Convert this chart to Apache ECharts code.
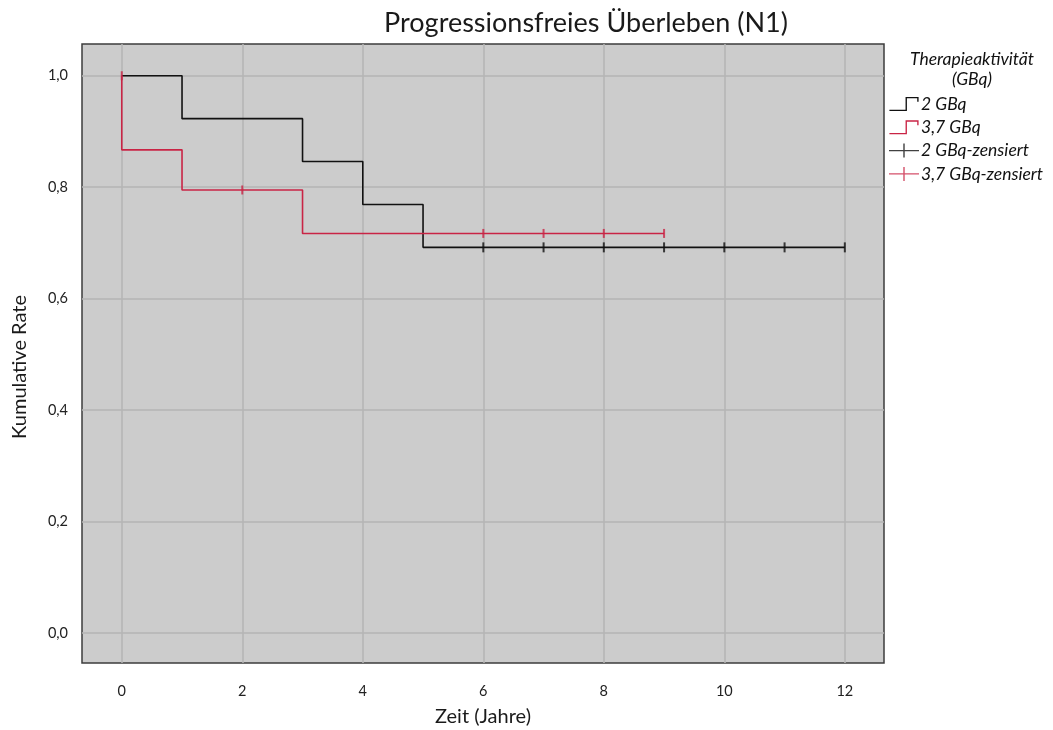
<!DOCTYPE html>
<html>
<head>
<meta charset="utf-8">
<script src="https://cdn.jsdelivr.net/npm/echarts@6/dist/echarts.min.js"></script>
<style>
html,body{margin:0;padding:0;background:#fff;}
#chart{width:1053px;height:730px;}
</style>
</head>
<body>
<div id="chart"></div>
<script>
// ---- data ----
var titleText = 'Progressionsfreies Überleben (N1)';
var legendTitle = 'Therapieaktivität\n(GBq)';
var xName = 'Zeit (Jahre)';
var yName = 'Kumulative Rate';
var seriesNames = ['2 GBq', '3,7 GBq', '2 GBq-zensiert', '3,7 GBq-zensiert'];
var xTicks = [0, 2, 4, 6, 8, 10, 12];
var yTicks = [0, 0.2, 0.4, 0.6, 0.8, 1.0];

// 2 GBq step curve
var timeA = [0, 1, 3, 4, 5, 12];
var survA = [1.0, 0.923, 0.846, 0.769, 0.692, 0.692];
// 3,7 GBq step curve
var timeB = [0, 0, 1, 3, 9];
var survB = [1.0, 0.867, 0.795, 0.717, 0.717];
// censored observations
var censTimeA = [6, 7, 8, 9, 10, 11, 12];
var censSurvA = [0.692, 0.692, 0.692, 0.692, 0.692, 0.692, 0.692];
var censTimeB = [0, 2, 6, 7, 8, 9];
var censSurvB = [1.0, 0.795, 0.717, 0.717, 0.717, 0.717];

function zip(a, b) { return a.map(function (v, i) { return [v, b[i]]; }); }

var BLACK = '#111111';
var RED = '#c92445';
var FONT = 'Lato, "Open Sans", sans-serif';

var stepIcon = 'path://M0,13H18V14.4H0Z M16.6,0H18V14.4H16.6Z M16.6,0H30V1.4H16.6Z M28.6,0H30V5H28.6Z';
var censIcon = 'path://M0,6.3H30V7.7H0Z M14.3,0H15.7V14H14.3Z';
var tickMark = 'path://M0,0H2V10H0Z';

var chart = echarts.init(document.getElementById('chart'), null, {renderer: 'canvas'});
chart.setOption({
  animation: false,
  backgroundColor: '#ffffff',
  title: [
    {
      text: titleText,
      left: 581, top: 5, textAlign: 'center',
      textStyle: {fontFamily: FONT, fontSize: 27, fontWeight: 'normal', color: '#1a1a1a'}
    },
    {
      text: legendTitle,
      left: 967, top: 44, textAlign: 'center',
      textStyle: {fontFamily: FONT, fontSize: 17.5, fontStyle: 'italic', fontWeight: 'normal', color: '#111', lineHeight: 20}
    }
  ],
  legend: {
    orient: 'vertical',
    left: 889, top: 95,
    itemWidth: 30, itemHeight: 14,
    itemGap: 5.3,
    padding: 0,
    textStyle: {fontFamily: FONT, fontSize: 17.5, fontStyle: 'italic', color: '#111', lineHeight: 16, padding: [0, 0, 0, -3]},
    itemStyle: {borderWidth: 0},
    data: [
      {name: seriesNames[0], icon: stepIcon},
      {name: seriesNames[1], icon: stepIcon},
      {name: seriesNames[2], icon: censIcon},
      {name: seriesNames[3], icon: censIcon}
    ]
  },
  grid: {
    left: 82, right: 169, top: 44, bottom: 67,
    show: true, backgroundColor: '#cccccc', borderColor: '#3c3c3c', borderWidth: 1.5,
    containLabel: false,
    outerBoundsMode: 'none'
  },
  xAxis: {
    type: 'value', min: -0.66, max: 12.65,
    name: xName, nameLocation: 'middle', nameGap: 44,
    nameTextStyle: {fontFamily: FONT, fontSize: 20, color: '#1a1a1a'},
    axisLine: {show: false},
    axisTick: {show: false, customValues: xTicks},
    axisLabel: {customValues: xTicks, margin: 21, fontFamily: FONT, fontSize: 14.5, color: '#222'},
    splitLine: {show: true, lineStyle: {color: '#b4b4b4', width: 1.5}}
  },
  yAxis: {
    type: 'value', min: -0.054, max: 1.057,
    axisLine: {show: false},
    axisTick: {show: false, customValues: yTicks},
    axisLabel: {
      customValues: yTicks, margin: 14, fontFamily: FONT, fontSize: 14.5, color: '#222',
      formatter: function (v) { return v.toFixed(1).replace('.', ','); }
    },
    splitLine: {show: true, lineStyle: {color: '#b4b4b4', width: 1.5}}
  },
  graphic: [
    {
      type: 'text', x: 20, y: 367, rotation: Math.PI / 2,
      style: {text: yName, fontFamily: FONT, fontSize: 20, fill: '#1a1a1a', align: 'center', verticalAlign: 'middle'}
    }
  ],
  series: [
    {
      name: seriesNames[0], type: 'line', step: 'end', data: zip(timeA, survA),
      showSymbol: false, symbol: 'none',
      lineStyle: {color: BLACK, width: 1.6}, itemStyle: {color: BLACK}, z: 3
    },
    {
      name: seriesNames[1], type: 'line', step: 'end', data: zip(timeB, survB),
      showSymbol: false, symbol: 'none',
      lineStyle: {color: RED, width: 1.6}, itemStyle: {color: RED}, z: 3
    },
    {
      name: seriesNames[2], type: 'scatter', data: zip(censTimeA, censSurvA),
      symbol: tickMark, symbolSize: [2, 10], itemStyle: {color: BLACK}, z: 4
    },
    {
      name: seriesNames[3], type: 'scatter', data: zip(censTimeB, censSurvB),
      symbol: tickMark, symbolSize: [2, 9], itemStyle: {color: RED}, z: 4
    }
  ]
});
</script>
</body>
</html>
